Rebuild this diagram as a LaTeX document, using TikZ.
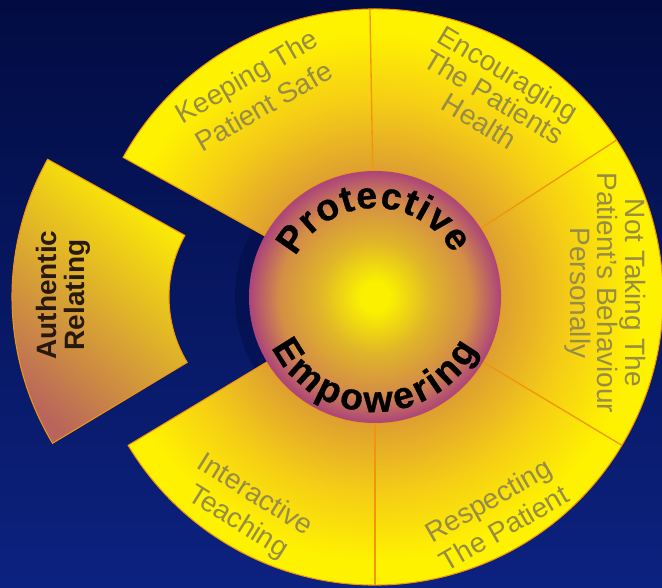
\documentclass[tikz,border=0pt]{standalone}
\usepackage{fontspec}
\setmainfont{Liberation Sans}
\newfontfamily\hubfont{Liberation Sans Bold}[FakeBold=0.8]
\usetikzlibrary{decorations.text}

\definecolor{navytop}{RGB}{2,12,66}
\definecolor{navybottom}{RGB}{12,34,128}
\definecolor{ringinner}{RGB}{222,160,48}
\definecolor{ringmid}{RGB}{245,205,22}
\definecolor{ringouter}{RGB}{255,242,0}
\definecolor{rimorange}{RGB}{240,150,10}
\definecolor{hubcore}{RGB}{250,240,0}
\definecolor{hubgold}{RGB}{224,182,40}
\definecolor{hubtan}{RGB}{212,142,70}
\definecolor{hubedge}{RGB}{172,68,122}
\definecolor{labelolive}{RGB}{150,140,70}
\definecolor{relatemauve}{RGB}{185,100,92}
\definecolor{relateink}{RGB}{40,25,15}

% a circle path maps its rim onto 25bp of these shadings
\pgfdeclareradialshading{ringglow}{\pgfpointorigin}{color(0bp)=(ringinner); color(11bp)=(ringinner); color(17bp)=(ringmid); color(23bp)=(ringouter); color(25bp)=(ringouter); color(50bp)=(ringouter)}
\pgfdeclareradialshading{hubglow}{\pgfpointorigin}{color(0bp)=(hubcore); color(3bp)=(hubcore); color(11bp)=(hubgold); color(19bp)=(hubtan); color(22bp)=(hubtan!50!hubedge); color(25bp)=(hubedge); color(50bp)=(hubedge)}

\tikzset{
  seglabel/.style={text=labelolive, align=center, inner sep=0pt},
  rim/.style={draw=rimorange, line width=0.8pt},
  hubword/.style={decorate, decoration={text along path, text align={fit to path},
      text={|\fontsize{28}{28}\selectfont\hubfont|#1}}},
}

\begin{document}
\begin{tikzpicture}[x=0.75pt,y=0.75pt]
  \useasboundingbox (-375,-291) rectangle (287,297);
  \shade[top color=navytop, bottom color=navybottom] (-375,-291) rectangle (287,297);
  \fill[navytop, opacity=0.45] (0,0) circle (140);

  % the five segments round the hub
  \begin{scope}
    \clip (151:288) arc[start angle=151, end angle=-149, radius=288] -- (-149:126) arc[start angle=-149, end angle=151, radius=126] -- cycle;
    \shade[shading=ringglow] (0,0) circle (288);
  \end{scope}
  \path[rim] (151:288) arc[start angle=151, end angle=-149, radius=288] -- (-149:126) arc[start angle=-149, end angle=151, radius=126] -- cycle;
  \foreach \a in {91,33,-31,-90}
    \draw[rimorange, line width=1pt] (\a:126) -- (\a:288);

  % the segment pulled out to the left
  \begin{scope}[shift={(-79,0)}]
    \shade[top color=ringouter, middle color=ringouter!80!ringinner, bottom color=relatemauve, shading angle=-40, rim]
      (151:284) arc[start angle=151, end angle=211, radius=284] -- (211:127) arc[start angle=211, end angle=151, radius=127] -- cycle;
  \end{scope}

  % hub
  \shade[shading=hubglow] (0,0) circle (126);
  \path[hubword=Protective] (153:89) arc[start angle=153, end angle=29, radius=89];
  \path[hubword=Empowering] (206:115) arc[start angle=206, end angle=333, radius=115];

  \node[seglabel, rotate=30, font=\fontsize{21}{26}\selectfont] (keeping) at (-120,206) {Keeping The\\Patient Safe};
  \node[seglabel, rotate=-31, font=\fontsize{21}{21}\selectfont] (encouraging) at (119,200) {Encouraging\\The Patients\\Health};
  \node[seglabel, rotate=-90, font=\fontsize{21}{20.5}\selectfont] (nottaking) at (230,4) {Not Taking The\\Patient's Behaviour\\Personally};
  \node[seglabel, rotate=30, font=\fontsize{21}{24}\selectfont] (respecting) at (121,-217) {Respecting\\The Patient};
  \node[seglabel, rotate=-32, font=\fontsize{21}{24}\selectfont] (interactive) at (-129,-212) {Interactive\\Teaching};
  \node[align=center, inner sep=0pt, text=relateink, rotate=90, font=\fontsize{21}{21}\selectfont\bfseries] (authentic) at (-312,2) {Authentic\\Relating};
\end{tikzpicture}
\end{document}
